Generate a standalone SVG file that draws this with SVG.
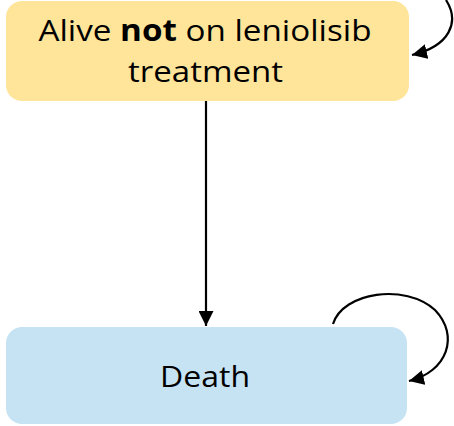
<svg xmlns="http://www.w3.org/2000/svg" width="454" height="426" viewBox="0 0 454 426">
<style>
.t{font-family:"Open Sans","Liberation Sans",sans-serif;font-size:30px;fill:#000;text-anchor:middle}
.c{fill:none;stroke:#000;stroke-width:2.2}
</style>
<defs>
<marker id="ah" viewBox="0 0 10 10" refX="10" refY="5" markerWidth="15" markerHeight="15" markerUnits="userSpaceOnUse" orient="auto">
<path d="M0,0L10,5L0,10z" fill="#000"/>
</marker>
</defs>
<g id="node-alive">
<rect x="6" y="1" width="403" height="100" rx="16" fill="#fee599"/>
<text class="t" x="205" y="41" textLength="333" lengthAdjust="spacingAndGlyphs">Alive <tspan font-weight="bold">not</tspan> on leniolisib</text>
<text class="t" x="205.5" y="82" textLength="155" lengthAdjust="spacingAndGlyphs">treatment</text>
</g>
<g id="node-death">
<rect x="6" y="327" width="401" height="97" rx="16" fill="#c6e3f4"/>
<text class="t" x="205" y="387" textLength="90" lengthAdjust="spacingAndGlyphs">Death</text>
</g>
<g id="connectors">
<path class="c" d="M333,324C343,292 405,283 435,310C460,336 447,372 409,381" marker-end="url(#ah)"/>
<path class="c" d="M206,101V326" marker-end="url(#ah)"/>
<path class="c" d="M446,0C460,22 450,46 412,55" marker-end="url(#ah)"/>
</g>
</svg>
